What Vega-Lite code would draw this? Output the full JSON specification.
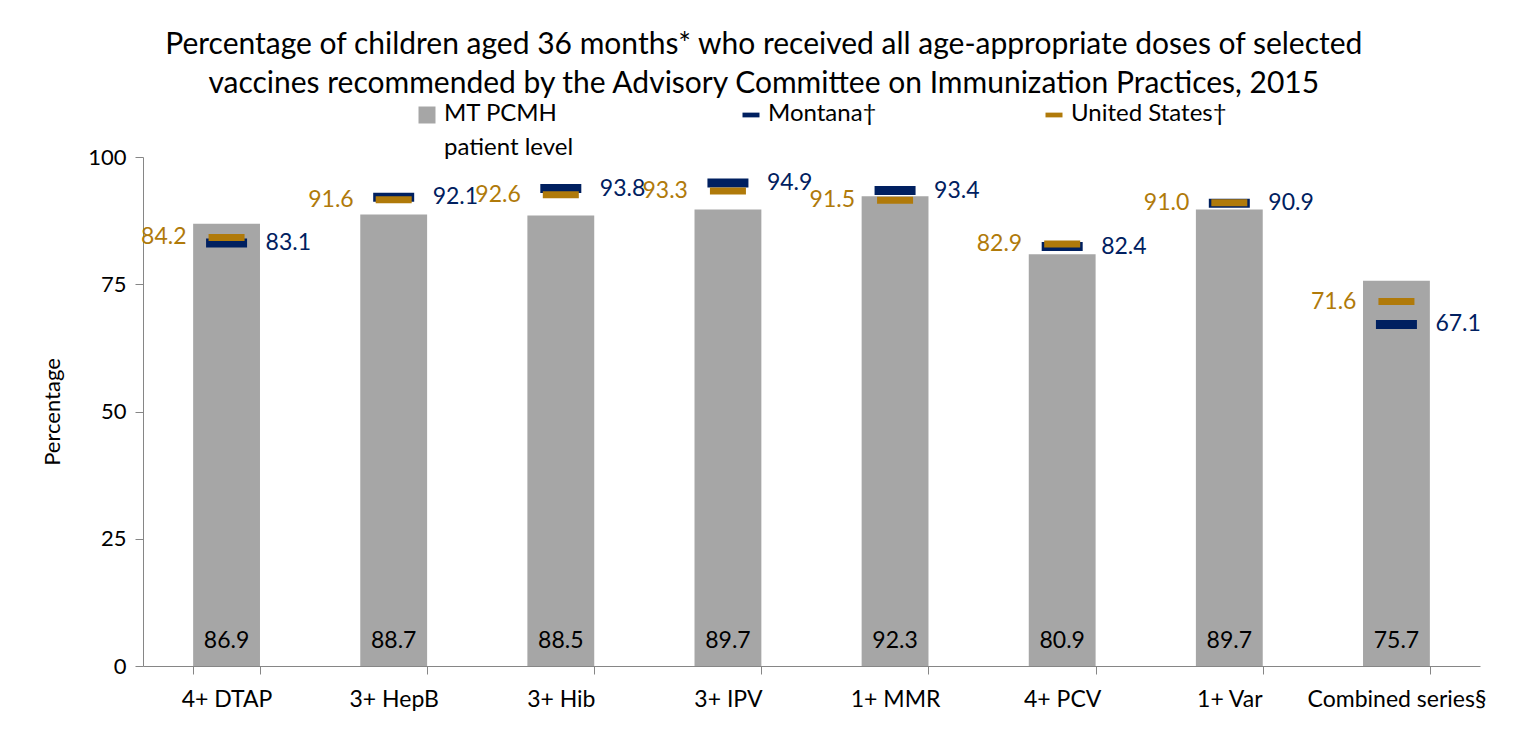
{
  "$schema": "https://vega.github.io/schema/vega-lite/v6.json",
  "autosize": {"type": "none"},
  "width": 1337,
  "height": 509,
  "padding": {"left": 143, "top": 157, "right": 45, "bottom": 81},
  "background": "white",
  "config": {
    "font": "Lato",
    "view": {"stroke": null},
    "axis": {"domainColor": "#868686", "tickColor": "#868686", "labelColor": "#000000", "titleColor": "#000000", "labelFont": "Lato", "titleFont": "Lato"}
  },
  "title": {
    "text": ["Percentage of children aged 36 months* who received all age-appropriate doses of selected", "vaccines recommended by the Advisory Committee on Immunization Practices, 2015"],
    "fontSize": 30,
    "fontWeight": "normal",
    "color": "#000000",
    "anchor": "middle",
    "frame": "bounds",
    "offset": 4,
    "lineHeight": 39
  },
  "data": {
    "values": [
      {"vaccine": "4+ DTAP", "series": "MT PCMH patient level", "value": 86.9},
      {"vaccine": "4+ DTAP", "series": "Montana†", "value": 83.1},
      {"vaccine": "4+ DTAP", "series": "United States†", "value": 84.2},
      {"vaccine": "3+ HepB", "series": "MT PCMH patient level", "value": 88.7},
      {"vaccine": "3+ HepB", "series": "Montana†", "value": 92.1},
      {"vaccine": "3+ HepB", "series": "United States†", "value": 91.6},
      {"vaccine": "3+ Hib", "series": "MT PCMH patient level", "value": 88.5},
      {"vaccine": "3+ Hib", "series": "Montana†", "value": 93.8},
      {"vaccine": "3+ Hib", "series": "United States†", "value": 92.6},
      {"vaccine": "3+ IPV", "series": "MT PCMH patient level", "value": 89.7},
      {"vaccine": "3+ IPV", "series": "Montana†", "value": 94.9},
      {"vaccine": "3+ IPV", "series": "United States†", "value": 93.3},
      {"vaccine": "1+ MMR", "series": "MT PCMH patient level", "value": 92.3},
      {"vaccine": "1+ MMR", "series": "Montana†", "value": 93.4},
      {"vaccine": "1+ MMR", "series": "United States†", "value": 91.5},
      {"vaccine": "4+ PCV", "series": "MT PCMH patient level", "value": 80.9},
      {"vaccine": "4+ PCV", "series": "Montana†", "value": 82.4},
      {"vaccine": "4+ PCV", "series": "United States†", "value": 82.9},
      {"vaccine": "1+ Var", "series": "MT PCMH patient level", "value": 89.7},
      {"vaccine": "1+ Var", "series": "Montana†", "value": 90.9},
      {"vaccine": "1+ Var", "series": "United States†", "value": 91.0},
      {"vaccine": "Combined series§", "series": "MT PCMH patient level", "value": 75.7},
      {"vaccine": "Combined series§", "series": "Montana†", "value": 67.1},
      {"vaccine": "Combined series§", "series": "United States†", "value": 71.6}
    ]
  },
  "encoding": {
    "x": {
      "field": "vaccine",
      "type": "nominal",
      "sort": null,
      "scale": {"paddingInner": 0.6, "paddingOuter": 0.3},
      "axis": {"title": null, "labelAngle": 0, "labelFontSize": 23, "labelPadding": 14, "tickSize": 8, "tickBand": "extent", "labelLimit": 300}
    }
  },
  "layer": [
    {
      "transform": [{"filter": "datum.series == 'MT PCMH patient level'"}],
      "mark": {"type": "bar", "opacity": 1},
      "encoding": {
        "y": {
          "field": "value",
          "type": "quantitative",
          "scale": {"domain": [0, 100]},
          "axis": {"title": "Percentage", "titleFontSize": 22, "titleFontWeight": "normal", "titlePadding": 23, "labelFontSize": 22, "labelPadding": 9, "tickSize": 8, "values": [0, 25, 50, 75, 100], "grid": false}
        },
        "color": {
          "field": "series",
          "type": "nominal",
          "scale": {"domain": ["MT PCMH patient level", "Montana†", "United States†"], "range": ["#A6A6A6", "#002060", "#B07A0A"]},
          "legend": {
            "title": null,
            "orient": "none",
            "legendX": 272,
            "legendY": -54,
            "direction": "horizontal",
            "labelFontSize": 24,
            "labelColor": "#000000",
            "labelFont": "Lato",
            "symbolSize": 289,
            "symbolStrokeWidth": 0,
            "symbolOpacity": 1,
            "columnPadding": 165,
            "labelOffset": 5,
            "labelLimit": 300,
            "labelBaseline": "top",
            "labelExpr": "datum.label == 'MT PCMH patient level' ? ['MT PCMH', 'patient level'] : [datum.label, ' ']",
            "encode": {
              "labels": {"update": {"dy": {"value": -13}, "lineHeight": {"value": 34}}},
              "symbols": {"update": {"shape": {"signal": "datum.value == 'MT PCMH patient level' ? 'square' : 'M-1,-0.28H1V0.28H-1Z'"}}}
            }
          }
        }
      }
    },
    {
      "transform": [{"filter": "datum.series == 'Montana†'"}],
      "mark": {"type": "tick", "orient": "horizontal", "size": 41, "thickness": 9, "opacity": 1},
      "encoding": {
        "y": {"field": "value", "type": "quantitative"},
        "color": {"field": "series", "type": "nominal"}
      }
    },
    {
      "transform": [{"filter": "datum.series == 'United States†'"}],
      "mark": {"type": "tick", "orient": "horizontal", "size": 36, "thickness": 7, "opacity": 1},
      "encoding": {
        "y": {"field": "value", "type": "quantitative"},
        "color": {"field": "series", "type": "nominal"}
      }
    },
    {
      "transform": [{"filter": "datum.series == 'Montana†'"}],
      "mark": {"type": "text", "align": "left", "baseline": "middle", "dx": 39, "fontSize": 23, "color": "#002060"},
      "encoding": {
        "y": {"field": "value", "type": "quantitative"},
        "text": {"field": "value", "type": "quantitative", "format": ".1f"}
      }
    },
    {
      "transform": [{"filter": "datum.series == 'United States†'"}],
      "mark": {"type": "text", "align": "right", "baseline": "middle", "dx": -40, "fontSize": 23, "color": "#B07A0A"},
      "encoding": {
        "y": {"field": "value", "type": "quantitative"},
        "text": {"field": "value", "type": "quantitative", "format": ".1f"}
      }
    },
    {
      "transform": [{"filter": "datum.series == 'MT PCMH patient level'"}],
      "mark": {"type": "text", "align": "center", "baseline": "middle", "dy": -25, "fontSize": 23, "color": "#000000"},
      "encoding": {
        "y": {"datum": 0},
        "text": {"field": "value", "type": "quantitative", "format": ".1f"}
      }
    }
  ]
}
